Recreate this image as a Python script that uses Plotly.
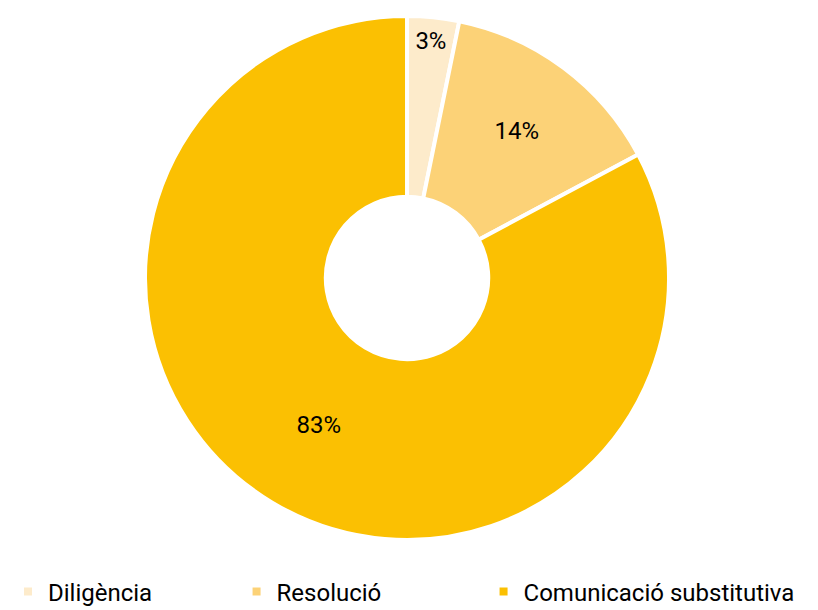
import plotly.graph_objects as go

labels = ["Diligència", "Resolució", "Comunicació substitutiva"]
values = [3.2, 14.0, 82.8]
colors = ["#FDEBCB", "#FCD277", "#FBC002"]

# trailing spaces widen the legend entries so they sit at fixed steps
pads = ["\u2003" * 3 + "\u00a0", "\u2003" * 3 + "\u00a0" * 4, ""]
legend_labels = [lab + pad for lab, pad in zip(labels, pads)]

fig = go.Figure()
fig.add_trace(go.Pie(
    labels=legend_labels, values=values, hole=0.31, sort=False,
    direction="clockwise", rotation=0,
    marker=dict(colors=colors, line=dict(color="white", width=4)),
    textinfo="percent", texttemplate="%{percent:.0%}",
    textposition="inside", insidetextorientation="horizontal",
    textfont=dict(color="black", size=24, family="Roboto"),
    hovertemplate="%{label}: %{percent}<extra></extra>",
    domain=dict(x=[0, 0.9756], y=[0.128, 0.987]),
))

fig.update_layout(
    width=818, height=610,
    margin=dict(l=0, r=0, t=0, b=0),
    paper_bgcolor="white", plot_bgcolor="white",
    font=dict(family="Roboto", color="black"),
    legend=dict(
        orientation="h", x=0, xanchor="left", y=0.006, yanchor="bottom",
        font=dict(size=24, color="black"),
        itemwidth=30, traceorder="normal",
    ),
)

fig.write_html("out.html")
